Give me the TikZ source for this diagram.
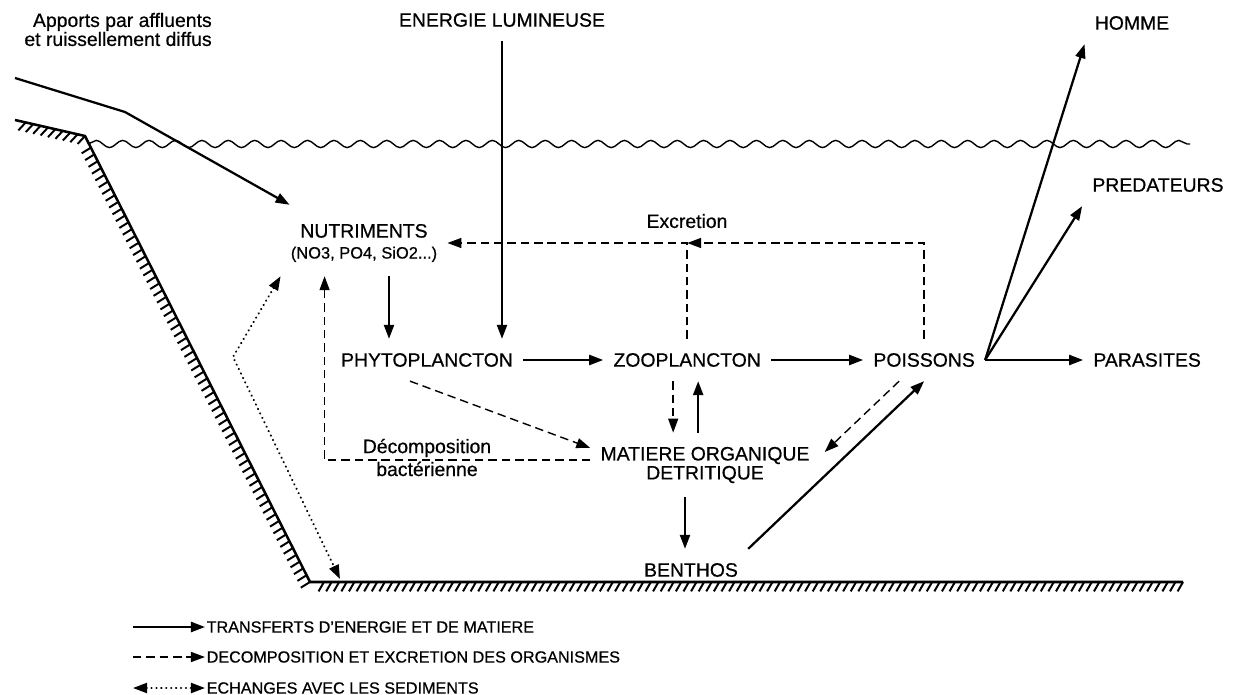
\documentclass[tikz,border=0pt]{standalone}
\usepackage{fontspec}
\setmainfont{Liberation Sans}[FakeBold=0.6]
\usetikzlibrary{positioning,calc,arrows.meta}
\usetikzlibrary{decorations.pathmorphing,decorations.pathreplacing}
\tikzset{
  lbl/.style={font=\fontsize{13.8}{13.5}\selectfont, inner xsep=0.25cm, inner ysep=0.35cm, align=center},
  legtxt/.style={font=\fontsize{11.5}{13}\selectfont, inner sep=1pt, anchor=west},
  flux/.style={line width=1.6pt, -{Triangle[length=0.35cm,width=0.25cm]}},
  decomp/.style={line width=1pt, dash pattern=on 6pt off 3.5pt, -{Triangle[length=0.35cm,width=0.25cm]}},
  sedim/.style={line width=1.5pt, line cap=round, dash pattern=on 0.2pt off 3.3pt, {Triangle[length=0.35cm,width=0.25cm]}-{Triangle[length=0.35cm,width=0.25cm]}},
  shore/.style={line width=1.8pt, line join=round},
  hatch/.style={line width=1.4pt, decorate, decoration={border, angle=#1, amplitude=0.27cm, segment length=0.19cm}},
  water/.style={line width=1pt, decorate, decoration={snake, amplitude=0.09cm, segment length=0.66cm}}
}
\begin{document}
\begin{tikzpicture}[x=0.025cm, y=0.025cm]
	\useasboundingbox (0,0) rectangle (1242,-695);
	% lake
	\draw[shore] (1183,-582) -- (310,-582) -- (85,-136) -- (15,-120);
	\draw[hatch=60] (1183,-582) -- (310,-582);
	\draw[hatch=95] (310,-582) -- (85,-136);
	\draw[hatch=60] (85,-136) -- (15,-120);
	\draw[water] (88,-144) -- (1190,-144);
	\coordinate (floor) at (340,-579);
	
	\node[lbl, anchor=east, align=right] (apports) at (222,-29.5) {Apports par affluents\\et ruissellement diffus};
	\node[lbl] (energie) at (502,-20) {ENERGIE LUMINEUSE};
	\node[lbl] (homme) at (1132,-23) {HOMME};
	\node[lbl] (predateurs) at (1158,-185) {PREDATEURS};
	
	\node[lbl, font=\fontsize{13.8}{14.9}\selectfont] (nutri) at (364,-243) {NUTRIMENTS\\{\fontsize{11.7}{14.9}\selectfont (NO3, PO4, SiO2...)}};
	\node[lbl] (phyto) at (427,-360) {PHYTOPLANCTON};
	\node[lbl, right=2cm of phyto] (zoo) {ZOOPLANCTON};
	\node[lbl, right=2.3cm of zoo] (poiss) {POISSONS};
	\node[lbl, right=2.45cm of poiss] (parasites) {PARASITES};
	
	\node[lbl] (matiere) at (705,-465) {MATIERE ORGANIQUE\\DETRITIQUE};
	\node[lbl] (benthos) at (691,-570) {BENTHOS};
	\node[lbl, font=\fontsize{13.8}{16.3}\selectfont] (decomp) at (427,-457.5) {Décomposition\\bactérienne};
	\node[lbl] (excr) at (687,-221) {Excretion};
	%
	\coordinate (inflow) at (15,-78);
	\coordinate (inbend) at (125,-112);
	\draw[flux] (inflow) -- (inbend) -- ($(nutri.north west)+(9,5)$);
	\draw[flux] (energie) -- (energie |- phyto.north);
	\coordinate (nphyto) at ($(nutri.south)+(25,0)$);
	\draw[flux] (nphyto) -- (nphyto |- phyto.north);
	
	\draw[flux] (phyto) -- (zoo);
	\draw[flux] (zoo) -- (poiss);
	\draw[flux] (poiss.east) -- (parasites);
	\draw[flux] (poiss.east) -- (predateurs.south west);
	\draw[flux] (poiss.east) -- (homme.south west);
	
	\coordinate (zdown) at ($(zoo.south)+(-14,0)$);
	\coordinate (zup) at ($(zoo.south)+(11,0)$);
	\draw[decomp] (zdown) -- (zdown |- matiere.north);
	\draw[flux] (zup |- matiere.north) -- (zup);
	\coordinate (mdown) at ($(matiere.south)+(-20,0)$);
	\draw[flux] (mdown) -- (mdown |- benthos.north);
	\draw[flux] (benthos.north east) -- (poiss.south);
	
	\draw[decomp] ($(phyto.south)+(-17,0)$) -- ($(matiere.west)+(0,17)$);
	\draw[decomp] ($(poiss.south)+(-25,0)$) -- ($(matiere.east)+(5,13)$);
	\draw[decomp] ($(matiere.west)+(0,5)$) -| ($(nutri.south west)+(44,0)$);
	
	\coordinate (excjoin) at (zoo.north |- nutri.east);
	\draw[decomp] (zoo.north) |- (nutri.east);
	\draw[decomp] (poiss.north) |- (excjoin);
	
	\coordinate (sedbend) at (233,-357);
	\draw[sedim] (nutri.south west) -- (sedbend) -- (floor);
	
	% legend
	\node[legtxt] (leg1) at (205,-627) {TRANSFERTS D'ENERGIE ET DE MATIERE};
	\node[legtxt] (leg2) at (205,-657) {DECOMPOSITION ET EXCRETION DES ORGANISMES};
	\node[legtxt] (leg3) at (205,-688) {ECHANGES AVEC LES SEDIMENTS};
	\coordinate (l1) at (133,-627);
	\coordinate (l2) at (133,-657);
	\coordinate (l3) at (133,-688);
	\draw[flux] (l1) -- (leg1.west);
	\draw[decomp] (l2) -- (leg2.west);
	\draw[sedim] (l3) -- (leg3.west);
\end{tikzpicture}
\end{document}
